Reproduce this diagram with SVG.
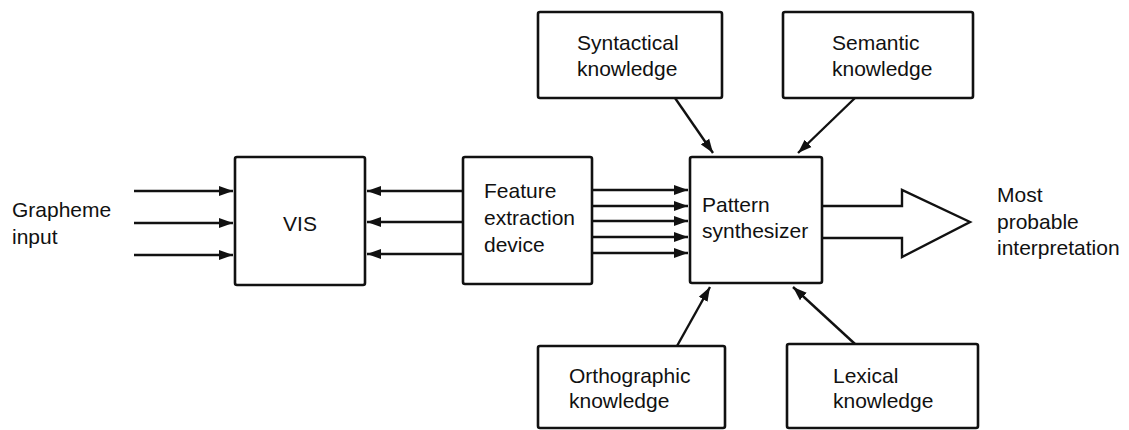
<svg xmlns="http://www.w3.org/2000/svg" width="1129" height="430" viewBox="0 0 1129 430">
<style>
.box{fill:#fff;stroke:#111;stroke-width:2.6}
.t{font-family:"Liberation Sans",Arial,sans-serif;font-size:21px;fill:#111}
.c{stroke:#111;stroke-width:2.4;fill:none}
</style>
<defs>
<marker id="ah" markerUnits="userSpaceOnUse" markerWidth="16" markerHeight="12" refX="14" refY="6" orient="auto">
<path d="M0,1 L14,6 L0,11 Z" fill="#111"/>
</marker>
</defs>
<rect width="1129" height="430" fill="#fff"/>
<g id="connectors">
<line class="c" x1="134" y1="191" x2="233" y2="191" marker-end="url(#ah)"/>
<line class="c" x1="134" y1="223" x2="233" y2="223" marker-end="url(#ah)"/>
<line class="c" x1="134" y1="255" x2="233" y2="255" marker-end="url(#ah)"/>
<line class="c" x1="463" y1="191" x2="367" y2="191" marker-end="url(#ah)"/>
<line class="c" x1="463" y1="222" x2="367" y2="222" marker-end="url(#ah)"/>
<line class="c" x1="463" y1="254" x2="367" y2="254" marker-end="url(#ah)"/>
<line class="c" x1="592" y1="190" x2="688" y2="190" marker-end="url(#ah)"/>
<line class="c" x1="592" y1="206" x2="688" y2="206" marker-end="url(#ah)"/>
<line class="c" x1="592" y1="221" x2="688" y2="221" marker-end="url(#ah)"/>
<line class="c" x1="592" y1="237" x2="688" y2="237" marker-end="url(#ah)"/>
<line class="c" x1="592" y1="253" x2="688" y2="253" marker-end="url(#ah)"/>
<line class="c" x1="675" y1="98" x2="713" y2="153" marker-end="url(#ah)"/>
<line class="c" x1="855" y1="98" x2="798" y2="153" marker-end="url(#ah)"/>
<line class="c" x1="677" y1="346" x2="710" y2="287" marker-end="url(#ah)"/>
<line class="c" x1="855" y1="344" x2="793" y2="287" marker-end="url(#ah)"/>
<path class="c" d="M822,206 L902,206 L902,190 L970,222 L902,257 L902,238 L822,238" stroke-width="2.6" stroke-linejoin="miter"/>
</g>
<g id="grapheme">
<text class="t" x="12" y="217">Grapheme</text>
<text class="t" x="12" y="244">input</text>
</g>
<g id="vis">
<rect class="box" x="235" y="157" width="130" height="128" rx="2"/>
<text class="t" x="300" y="231" text-anchor="middle">VIS</text>
</g>
<g id="feature">
<rect class="box" x="463" y="157" width="129" height="127" rx="2"/>
<text class="t" x="484" y="198">Feature</text>
<text class="t" x="484" y="225">extraction</text>
<text class="t" x="484" y="252">device</text>
</g>
<g id="pattern">
<rect class="box" x="690" y="157" width="132" height="126" rx="2"/>
<text class="t" x="702" y="212">Pattern</text>
<text class="t" x="702" y="238">synthesizer</text>
</g>
<g id="syntactical">
<rect class="box" x="538" y="12" width="184" height="86" rx="2"/>
<text class="t" x="577" y="50">Syntactical</text>
<text class="t" x="577" y="76">knowledge</text>
</g>
<g id="semantic">
<rect class="box" x="783" y="12" width="190" height="86" rx="2"/>
<text class="t" x="832" y="50">Semantic</text>
<text class="t" x="832" y="76">knowledge</text>
</g>
<g id="orthographic">
<rect class="box" x="538" y="346" width="187" height="82" rx="2"/>
<text class="t" x="569" y="383">Orthographic</text>
<text class="t" x="569" y="408">knowledge</text>
</g>
<g id="lexical">
<rect class="box" x="787" y="344" width="191" height="84" rx="2"/>
<text class="t" x="833" y="383">Lexical</text>
<text class="t" x="833" y="408">knowledge</text>
</g>
<g id="output">
<text class="t" x="997" y="202">Most</text>
<text class="t" x="997" y="229">probable</text>
<text class="t" x="997" y="255">interpretation</text>
</g>
</svg>
